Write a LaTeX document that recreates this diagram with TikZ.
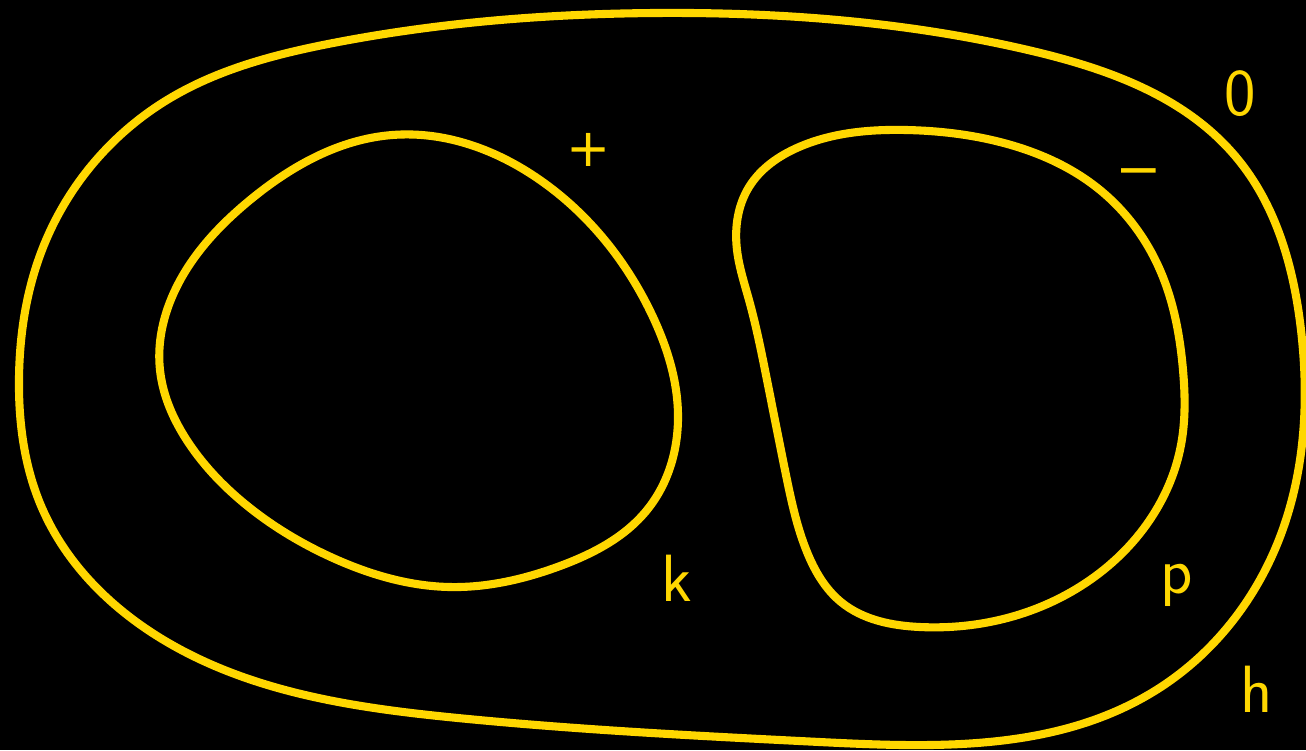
\documentclass[tikz,border=0pt]{standalone}
\usepackage{fontspec}
\newfontfamily\djv{DejaVu Sans}
\usetikzlibrary{hobby}
\definecolor{gold}{HTML}{FFD700}
\tikzset{
  loop/.style={draw=gold, line width=2.3pt, use Hobby shortcut, closed=true},
  lbl/.style={text=gold, font=\sffamily\fontsize{19}{22}\selectfont, inner sep=0pt}
}
\begin{document}
\begin{tikzpicture}[x=0.01cm,y=-0.01cm]
\fill[black] (0,0) rectangle (1306,750);
\useasboundingbox (0,0) rectangle (1306,750);
% outer
\draw[loop] (653,13) .. (1028,50) .. (1236,157) .. (1301,330) .. (1278,542) .. (1153,692) .. (820,742)
 .. (458,718) .. (167,642) .. (42,508) .. (19,378) .. (42,250) .. (167,100) .. (333,43);
% left inner
\draw[loop] (392,135) .. (540,180) .. (653,317) .. (678,415) .. (647,510)
 .. (560,566) .. (450,587) .. (333,558) .. (250,508) .. (188,442) .. (160,370) .. (188,267) .. (250,200);
% right inner
\draw[loop] (907,130) .. (1000,142) .. (1100,190) .. (1160,270) .. (1183,370) .. (1181,445)
 .. (1153,515) .. (1090,580) .. (920,627) .. (841,602) .. (807,552) .. (786,475)
 .. (766,375) .. (749,300) .. (737,250) .. (749,187) .. (799,147);
\node[lbl] (zero) at (1240,94) {0};
\node[lbl, font=\djv\fontsize{15}{18}\selectfont] (plus) at (589,150) {+};
\node[lbl, font=\sffamily\fontsize{21}{24}\selectfont] (minus) at (1139,180) {--};
\node[lbl] (k) at (677,578) {k};
\node[lbl] (p) at (1177,585) {p};
\node[lbl] (h) at (1257,689) {h};
\end{tikzpicture}
\end{document}
